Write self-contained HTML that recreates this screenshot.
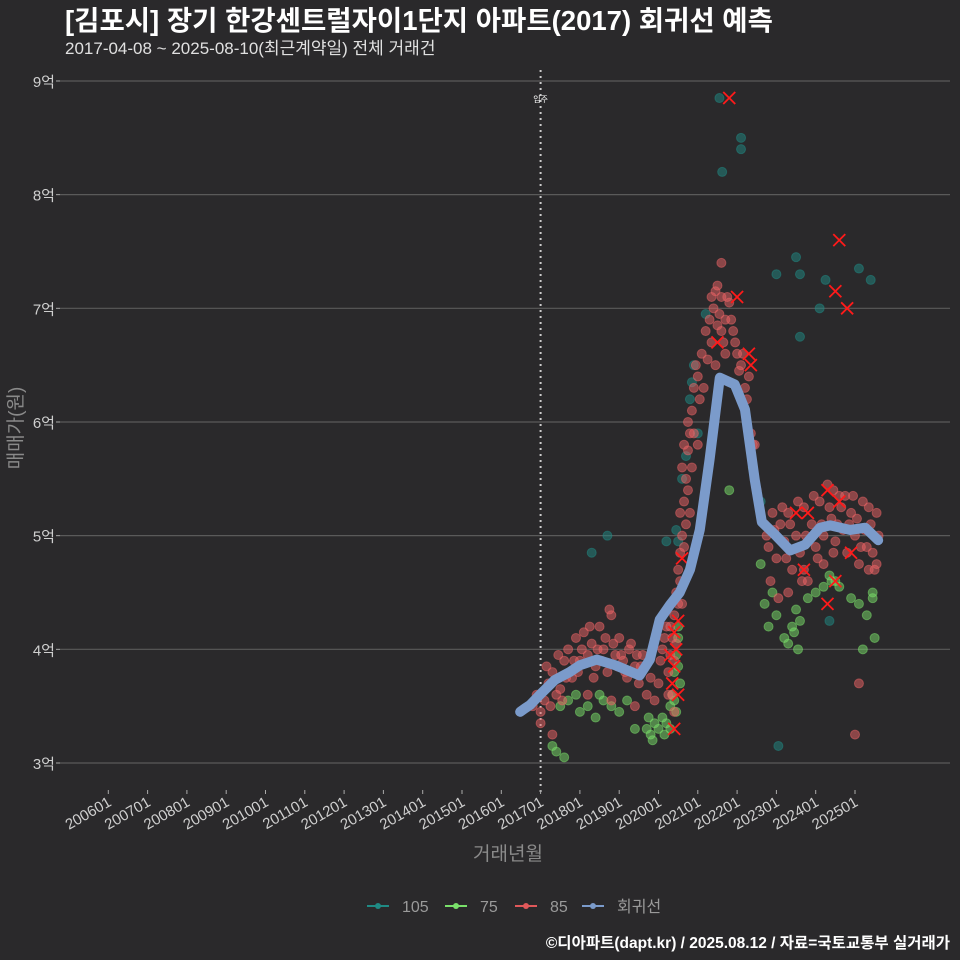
<!DOCTYPE html>
<html><head><meta charset="utf-8">
<style>
html,body{margin:0;padding:0;background:#2a292b;}
svg{display:block;font-family:"Liberation Sans","Noto Sans CJK KR",sans-serif;}
</style></head>
<body>
<svg id="chart" width="960" height="960" viewBox="0 0 960 960">
<rect width="960" height="960" fill="#2a292b"/>
<text x="65" y="30" fill="#ffffff" font-size="27.5" font-weight="bold">[김포시] 장기 한강센트럴자이1단지 아파트(2017) 회귀선 예측</text>
<text x="65" y="54" fill="#e0e0e0" font-size="17">2017-04-08 ~ 2025-08-10(최근계약일) 전체 거래건</text>
<g id="grid"></g><g id="xaxis"></g><g id="yaxis"></g>
<g id="marks"></g>
<text x="0" y="0" transform="translate(22,428) rotate(-90)" text-anchor="middle" fill="#8a8a8a" font-size="19">매매가(원)</text>
<text x="508" y="860" text-anchor="middle" fill="#8a8a8a" font-size="19">거래년월</text>
<g id="legend"></g>
<text x="950" y="948" text-anchor="end" fill="#ffffff" font-size="15.5" font-weight="bold">©디아파트(dapt.kr) / 2025.08.12 / 자료=국토교통부 실거래가</text>
</svg>
<script>
const yTicks=[3,4,5,6,7,8,9];
const xTickYears=[2006,2007,2008,2009,2010,2011,2012,2013,2014,2015,2016,2017,2018,2019,2020,2021,2022,2023,2024,2025];
const moveInYear=2017;
const s105=[[2021.55,8.85],[2021.62,8.2],[2022.1,8.5],[2022.1,8.4],[2023.0,7.3],[2023.5,7.45],[2023.6,7.3],[2023.6,6.75],[2024.25,7.25],[2024.1,7.0],[2025.1,7.35],[2025.4,7.25],[2018.7,5.0],[2018.3,4.85],[2020.6,5.5],[2020.7,5.7],[2020.8,6.2],[2020.9,6.5],[2021.2,6.95],[2020.45,5.05],[2020.5,4.95],[2020.2,4.95],[2022.6,5.3],[2023.05,3.15],[2024.35,4.25],[2020.85,6.35],[2021.0,5.9]];
const s75=[[2017.3,3.15],[2017.4,3.1],[2017.6,3.05],[2017.5,3.5],[2017.7,3.55],[2018.0,3.45],[2018.2,3.5],[2018.4,3.4],[2018.6,3.55],[2018.8,3.5],[2019.0,3.45],[2019.2,3.55],[2019.4,3.3],[2019.7,3.3],[2019.8,3.25],[2019.9,3.35],[2020.0,3.3],[2020.1,3.4],[2020.2,3.35],[2020.3,3.5],[2020.35,3.6],[2020.4,3.8],[2020.45,3.95],[2020.5,4.1],[2020.5,4.2],[2020.55,3.7],[2020.45,3.45],[2020.3,3.3],[2019.75,3.4],[2019.85,3.2],[2020.15,3.25],[2020.4,3.55],[2020.5,3.85],[2017.9,3.6],[2018.5,3.6],[2022.7,4.4],[2022.8,4.2],[2022.9,4.5],[2023.0,4.3],[2023.2,4.1],[2023.3,4.05],[2023.4,4.2],[2023.5,4.35],[2023.6,4.25],[2023.8,4.45],[2024.0,4.5],[2024.2,4.55],[2024.35,4.65],[2024.5,4.6],[2024.6,4.55],[2024.9,4.45],[2025.1,4.4],[2025.3,4.3],[2025.45,4.5],[2025.5,4.1],[2025.2,4.0],[2022.6,4.75],[2021.8,5.4],[2022.4,5.6],[2023.45,4.15],[2023.55,4.0],[2024.4,4.6],[2025.45,4.45]];
const s85=[[2016.8,3.5],[2016.9,3.6],[2017.0,3.45],[2017.1,3.55],[2017.2,3.7],[2017.3,3.8],[2017.4,3.6],[2017.5,3.65],[2017.6,3.9],[2017.7,4.0],[2017.8,3.75],[2017.9,4.1],[2018.0,3.9],[2018.1,4.15],[2018.2,3.95],[2018.3,4.05],[2018.4,3.85],[2018.5,4.2],[2018.6,4.0],[2018.7,3.8],[2018.8,4.3],[2018.9,3.95],[2019.0,4.1],[2019.1,3.9],[2019.2,3.75],[2019.3,4.05],[2019.4,3.85],[2019.5,3.7],[2019.6,3.95],[2019.7,3.6],[2019.8,3.75],[2017.3,3.25],[2017.0,3.35],[2018.2,3.6],[2018.8,3.55],[2019.4,3.5],[2019.9,3.55],
[2017.15,3.85],[2017.45,3.95],[2017.65,3.75],[2017.85,3.9],[2018.05,4.0],[2018.25,4.2],[2018.45,4.0],[2018.65,4.1],[2018.85,4.05],[2019.05,3.95],[2019.25,4.0],[2019.45,3.95],[2019.55,3.85],[2019.15,3.8],[2018.55,3.9],[2018.95,3.85],[2018.75,4.35],[2018.35,3.75],[2017.95,3.8],[2017.25,3.5],[2017.55,3.55],
[2020.0,3.7],[2020.05,3.9],[2020.1,4.0],[2020.15,4.1],[2020.2,4.2],[2020.25,3.8],[2020.3,3.95],[2020.35,4.1],[2020.4,4.3],[2020.45,4.5],[2020.5,4.7],[2020.55,4.85],[2020.6,5.0],[2020.65,5.3],[2020.7,5.5],[2020.75,5.75],[2020.8,5.9],[2020.85,6.1],[2020.9,6.3],[2020.95,6.5],[2021.0,6.4],[2021.1,6.6],[2021.2,6.8],[2021.3,6.9],[2021.4,7.0],[2021.5,7.2],[2021.55,6.95],[2021.6,7.1],[2021.65,6.7],[2021.7,6.9],[2021.8,7.05],[2021.9,6.8],[2022.0,6.6],[2022.1,6.5],[2022.2,6.3],[2022.3,6.4],[2021.6,7.4],[2020.6,5.6],[2020.8,5.2],[2021.0,5.8],
[2020.35,3.6],[2020.4,3.9],[2020.45,4.05],[2020.5,4.4],[2020.55,4.6],[2020.6,4.4],[2020.65,4.9],[2020.7,5.1],[2020.75,5.4],[2020.55,5.2],[2020.65,5.8],[2020.75,6.0],[2020.85,5.6],[2020.9,5.9],[2021.05,6.2],[2021.15,6.3],[2021.25,6.55],[2021.35,6.7],[2021.45,6.5],[2021.5,6.85],[2021.35,7.1],[2021.45,7.15],[2021.6,6.8],[2021.7,6.6],[2021.75,7.1],[2021.85,6.9],[2021.95,6.7],[2022.05,6.45],[2022.15,6.6],[2022.25,6.2],[2022.35,5.9],[2022.45,5.8],[2020.3,4.2],[2020.25,3.6],[2020.4,3.45],
[2022.4,5.8],[2022.5,5.4],[2022.7,5.1],[2022.8,4.9],[2022.9,5.2],[2023.0,4.8],[2023.1,5.1],[2023.2,4.95],[2023.3,5.2],[2023.4,4.7],[2023.5,5.0],[2023.6,4.85],[2023.7,5.25],[2023.8,4.6],[2023.9,5.1],[2024.0,4.9],[2024.1,5.3],[2024.2,5.0],[2024.3,5.45],[2024.4,5.15],[2024.5,4.95],[2024.6,5.35],[2024.7,5.05],[2024.8,4.85],[2024.9,5.2],[2025.0,5.0],[2025.1,4.75],[2025.2,5.3],[2025.3,4.9],[2025.4,5.1],[2025.5,4.7],[2025.6,5.0],[2023.3,4.5],[2023.7,4.7],[2025.1,3.7],[2025.0,3.25],[2024.2,4.75],
[2022.75,5.0],[2022.95,5.05],[2023.15,5.25],[2023.35,5.1],[2023.55,5.3],[2023.75,5.0],[2023.95,5.35],[2024.15,5.1],[2024.35,5.25],[2024.45,5.4],[2024.55,5.1],[2024.65,5.25],[2024.75,5.35],[2024.85,5.1],[2024.95,5.35],[2025.05,5.15],[2025.15,4.9],[2025.25,5.05],[2025.35,5.25],[2025.45,4.85],[2025.55,5.2],[2023.25,4.8],[2023.65,4.6],[2024.05,4.8],[2024.45,4.85],[2025.35,4.7],[2025.55,4.75],[2022.85,4.6],[2023.05,4.45]];
const sX=[[2020.35,3.7],[2020.4,3.85],[2020.45,4.0],[2020.4,4.15],[2020.5,4.25],[2020.3,3.95],[2020.5,3.6],[2020.4,3.3],[2020.6,4.8],[2021.5,6.7],[2021.8,8.85],[2022.0,7.1],[2022.3,6.6],[2022.35,6.5],[2023.5,5.2],[2023.8,5.2],[2024.3,5.4],[2024.6,5.3],[2024.6,7.6],[2024.5,7.15],[2024.8,7.0],[2024.3,4.4],[2024.5,4.6],[2023.7,4.7],[2024.9,4.85]];
const regT=[2016.48,2016.6,2016.73,2016.98,2017.36,2017.74,2018.0,2018.43,2018.9,2019.52,2019.78,2020.03,2020.29,2020.54,2020.8,2021.05,2021.3,2021.56,2021.94,2022.2,2022.45,2022.63,2022.96,2023.35,2023.73,2024.11,2024.37,2024.88,2025.26,2025.59];
const regV=[3.45,3.48,3.51,3.6,3.73,3.8,3.86,3.91,3.86,3.77,3.91,4.26,4.39,4.5,4.7,5.05,5.67,6.39,6.33,6.11,5.49,5.12,5.01,4.87,4.92,5.07,5.09,5.05,5.07,4.96];

const NS="http://www.w3.org/2000/svg";
const X=t=>108.3+(t-2006)*39.3;
const Y=p=>763-(p-3)*113.67;
function mk(tag,attrs,parent){const e=document.createElementNS(NS,tag);for(const k in attrs)e.setAttribute(k,attrs[k]);document.getElementById(parent).appendChild(e);return e;}

yTicks.forEach(v=>{
  const l=mk('line',{x1:60,x2:950,y1:Y(v),y2:Y(v),stroke:'#5a5a5a','stroke-width':1.2},'grid');
  
  
  const tk=mk('line',{x1:56,x2:60,y1:Y(v),y2:Y(v),stroke:'#aaa'},'yaxis');
  
  
  const t=mk('text',{x:55,y:Y(v)+6,'text-anchor':'end',fill:'#cfcfcf','font-size':15},'yaxis');
  t.textContent=v+'억';
  
  
});
xTickYears.forEach(yr=>{
  const x=X(yr);
  const tk=mk('line',{x1:x,x2:x,y1:790,y2:794,stroke:'#aaa'},'xaxis');
  
  
  const t=mk('text',{x:0,y:0,'text-anchor':'end',fill:'#cfcfcf','font-size':15,transform:`translate(${x+4},${805}) rotate(-30)`},'xaxis');
  t.textContent=yr+'01';
  
  
});
const vl=mk('line',{x1:X(moveInYear),x2:X(moveInYear),y1:70,y2:792,stroke:'#cccccc','stroke-width':2,'stroke-dasharray':'2,4'},'grid');


const vt=mk('text',{x:X(moveInYear),y:102,'text-anchor':'middle',fill:'#fff','font-size':8},'grid');
vt.textContent='입주';



function dots(arr,col,name){arr.forEach(d=>{
  const c=mk('circle',{cx:X(d[0]),cy:Y(d[1]),r:4.5,fill:col,'fill-opacity':0.5,stroke:col,'stroke-opacity':0.5},'marks');
  
  
});}
dots(s105,'#1f8a84','point-105');
dots(s75,'#79e06a','point-75');
dots(s85,'#ec6466','point-85');
sX.forEach(d=>{
  const x=X(d[0]),y=Y(d[1]);
  const p=mk('path',{d:`M${x-6} ${y-6}L${x+6} ${y+6}M${x-6} ${y+6}L${x+6} ${y-6}`,stroke:'#ff1a1a','stroke-width':1.8},'marks');
  
  
});
const rl=mk('polyline',{points:regT.map((t,i)=>X(t)+','+Y(regV[i])).join(' '),fill:'none',stroke:'#7b9bcb','stroke-width':10,'stroke-linejoin':'round','stroke-linecap':'round'},'marks');



const legItems=[['105','#1f8a84'],['75','#79e06a'],['85','#e0585a'],['회귀선','#7b9bcb']];
const legX=[367,445,515,582];
legItems.forEach((it,i)=>{
  const x=legX[i];
  const l=mk('line',{x1:x,x2:x+22,y1:906,y2:906,stroke:it[1],'stroke-width':2},'legend');
  
  
  const c=mk('circle',{cx:x+11,cy:906,r:3,fill:it[1]},'legend');
  
  
  const t=mk('text',{x:x+35,y:912,fill:'#9a9a9a','font-size':16},'legend');
  t.textContent=it[0];
  
  
});
</script>
</body></html>
